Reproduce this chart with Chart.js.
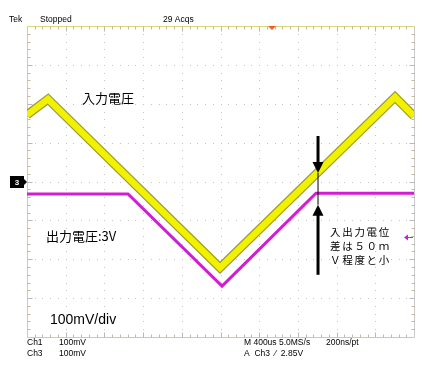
<!DOCTYPE html>
<html><head><meta charset="utf-8">
<script src="https://cdn.jsdelivr.net/npm/chart.js@4/dist/chart.umd.min.js"></script>
<style>html,body{margin:0;padding:0;background:#fff;}canvas{display:block;}</style>
</head><body>
<canvas id="c" width="438" height="372"></canvas>
<script>
// ---- data (time in µs, voltage in mV, 100 mV/div, 400 µs/div) ----
const inputTimeUs  = [0, 217, 1995, 3804, 4000];
const inputMv      = [171, 212, -222, 217, 168];
const outputTimeUs = [0, 1044, 2016, 2987, 4000];
const outputMv     = [-32, -32, -269, -30, -30];
const xDivs = 10, yDivs = 8;
const xMin = 0, xMax = 4000, yMin = -400, yMax = 400;
// arrow annotation (data units)
const arrowTimeUs = 3008;
const arrowTopMv = 117, arrowBottomMv = -240;
const arrowDownTipMv = 22, arrowUpTipMv = -60;
const ch3GroundMv = 0;
const refMarkerMv = -143;

const toPts = (xs, ys) => xs.map((x, i) => ({x: x, y: ys[i]}));

const FONT = '"Liberation Sans", Arial, sans-serif';
const JFONT = '"Noto Sans CJK JP", "Noto Sans", sans-serif';

const scopePlugin = {
  id: 'scope',
  beforeDatasetsDraw(chart) {
    const {ctx, chartArea: a, scales: {x, y}} = chart;
    ctx.save();
    // grid dots
    ctx.fillStyle = '#c4c4c4';
    const dx = (xMax - xMin) / xDivs, dy = (yMax - yMin) / yDivs;
    for (let i = 1; i < xDivs; i++) {
      const px = Math.round(x.getPixelForValue(xMin + i * dx));
      for (let j = 0; j <= yDivs * 5; j++) {
        const py = Math.round(y.getPixelForValue(yMin + j * dy / 5));
        ctx.fillRect(px, py, 1, 1);
      }
    }
    for (let j = 1; j < yDivs; j++) {
      const py = Math.round(y.getPixelForValue(yMin + j * dy));
      for (let i = 0; i <= xDivs * 5; i++) {
        const px = Math.round(x.getPixelForValue(xMin + i * dx / 5));
        ctx.fillRect(px, py, 1, 1);
      }
    }
    // frame
    ctx.lineWidth = 1;
    ctx.strokeStyle = '#c8c8c8';
    const L = Math.round(a.left) + 0.5, R = Math.round(a.right) + 0.5;
    const T = Math.round(a.top) + 0.5, B = Math.round(a.bottom) + 0.5;
    ctx.beginPath();
    ctx.moveTo(L, T); ctx.lineTo(L, B); ctx.lineTo(R, B); ctx.lineTo(R, T);
    ctx.stroke();
    ctx.strokeStyle = '#d8d878';
    ctx.beginPath(); ctx.moveTo(L, T); ctx.lineTo(R, T); ctx.stroke();
    // edge ticks
    for (let i = 1; i < xDivs * 5; i++) {
      const px = Math.round(x.getPixelForValue(xMin + i * dx / 5)) + 0.5;
      const len = (i % 5 === 0) ? 5 : 3;
      ctx.strokeStyle = (i % 5 === 0) ? '#b8b8b8' : '#c8b8a0';
      ctx.beginPath();
      ctx.moveTo(px, T); ctx.lineTo(px, T + len);
      ctx.moveTo(px, B); ctx.lineTo(px, B - len);
      ctx.stroke();
    }
    for (let j = 1; j < yDivs * 5; j++) {
      const py = Math.round(y.getPixelForValue(yMin + j * dy / 5)) + 0.5;
      const len = (j % 5 === 0) ? 5 : 3;
      ctx.strokeStyle = (j % 5 === 0) ? '#b8b8b8' : '#c8b8a0';
      ctx.beginPath();
      ctx.moveTo(L, py); ctx.lineTo(L + len, py);
      ctx.moveTo(R, py); ctx.lineTo(R - len, py);
      ctx.stroke();
    }
    ctx.restore();
  },
  afterDatasetsDraw(chart) {
    const {ctx, chartArea: a, scales: {x, y}} = chart;
    ctx.save();
    // header
    ctx.fillStyle = '#000';
    ctx.textBaseline = 'middle';
    ctx.font = '8.5px ' + FONT;
    ctx.fillText('Tek', 9, 20);
    ctx.fillText('Stopped', 40, 20);
    ctx.fillText('29 Acqs', 163, 20);
    // trigger marker
    ctx.fillStyle = '#f06018';
    ctx.beginPath();
    ctx.moveTo(268, a.top); ctx.lineTo(276, a.top); ctx.lineTo(272, a.top + 4);
    ctx.closePath(); ctx.fill();
    // footer
    ctx.fillStyle = '#000';
    ctx.font = '8.5px ' + FONT;
    ctx.fillText('Ch1', 27, 343);
    ctx.fillText('100mV', 59, 343);
    ctx.fillText('Ch3', 27, 354);
    ctx.fillText('100mV', 59, 354);
    ctx.fillText('M 400us 5.0MS/s', 244, 343);
    ctx.fillText('200ns/pt', 326, 343);
    ctx.fillText('A  Ch3  \u2044  2.85V', 244, 354);
    // ch3 ground marker
    const gy = Math.round(y.getPixelForValue(ch3GroundMv));
    ctx.fillStyle = '#000';
    ctx.fillRect(10, gy - 6, 14, 12);
    ctx.beginPath();
    ctx.moveTo(24, gy - 3); ctx.lineTo(a.left, gy); ctx.lineTo(24, gy + 3); ctx.fill();
    ctx.fillStyle = '#fff';
    ctx.font = 'bold 8px ' + FONT;
    ctx.textAlign = 'center';
    ctx.fillText('3', 17, gy + 0.5);
    ctx.textAlign = 'left';
    // reference marker (right)
    const ry = Math.round(y.getPixelForValue(refMarkerMv)) + 0.5;
    ctx.strokeStyle = '#d41cd4'; ctx.fillStyle = '#d41cd4'; ctx.lineWidth = 1;
    ctx.beginPath(); ctx.moveTo(406, ry); ctx.lineTo(413, ry); ctx.stroke();
    ctx.beginPath(); ctx.moveTo(404, ry); ctx.lineTo(408, ry - 3); ctx.lineTo(408, ry + 3); ctx.fill();
    // annotations
    ctx.fillStyle = '#000';
    ctx.font = '13px ' + JFONT;
    ctx.fillText('入力電圧', 82, 98);
    ctx.fillText('出力電圧:3V', 46, 236);
    ctx.font = '14px ' + FONT;
    ctx.fillText('100mV/div', 50, 320);
    ctx.font = '10.5px ' + JFONT;
    const lines = ['入出力電位', '差は５０ｍ', 'Ｖ程度と小'];
    lines.forEach((s, i) => {
      [...s].forEach((ch, k) => ctx.fillText(ch, 330 + k * 12.2, 232 + i * 14));
    });
    // arrow
    const ax = x.getPixelForValue(arrowTimeUs);
    const yTop = y.getPixelForValue(arrowTopMv), yBot = y.getPixelForValue(arrowBottomMv);
    const yDn = y.getPixelForValue(arrowDownTipMv), yUp = y.getPixelForValue(arrowUpTipMv);
    ctx.strokeStyle = '#000'; ctx.lineWidth = 3;
    ctx.beginPath(); ctx.moveTo(ax, yTop); ctx.lineTo(ax, yDn - 4); ctx.stroke();
    ctx.beginPath(); ctx.moveTo(ax, yUp + 4); ctx.lineTo(ax, yBot); ctx.stroke();
    ctx.lineWidth = 1;
    ctx.beginPath(); ctx.moveTo(ax, yDn); ctx.lineTo(ax, yUp); ctx.stroke();
    ctx.fillStyle = '#000';
    ctx.beginPath(); ctx.moveTo(ax - 5.5, yDn - 11); ctx.lineTo(ax + 5.5, yDn - 11); ctx.lineTo(ax, yDn); ctx.closePath(); ctx.fill();
    ctx.beginPath(); ctx.moveTo(ax - 5.5, yUp + 11); ctx.lineTo(ax + 5.5, yUp + 11); ctx.lineTo(ax, yUp); ctx.closePath(); ctx.fill();
    ctx.restore();
  }
};

new Chart(document.getElementById('c'), {
  type: 'line',
  data: {
    datasets: [
      {label: 'in-edge', data: toPts(inputTimeUs, inputMv), borderColor: '#9c9c34', borderWidth: 9, order: 3},
      {label: 'Ch1', data: toPts(inputTimeUs, inputMv), borderColor: '#f2f200', borderWidth: 6.5, order: 2},
      {label: 'Ch3', data: toPts(outputTimeUs, outputMv), borderColor: '#d41cd4', borderWidth: 3, order: 1}
    ]
  },
  options: {
    responsive: false,
    animation: false,
    devicePixelRatio: 1,
    layout: {padding: {left: 27, right: 24, top: 26, bottom: 35}},
    elements: {point: {radius: 0}, line: {tension: 0, borderJoinStyle: 'miter', borderCapStyle: 'butt'}},
    plugins: {legend: {display: false}, tooltip: {enabled: false}},
    scales: {
      x: {type: 'linear', min: xMin, max: xMax, display: false},
      y: {type: 'linear', min: yMin, max: yMax, display: false}
    }
  },
  plugins: [scopePlugin]
});
</script>
</body></html>
